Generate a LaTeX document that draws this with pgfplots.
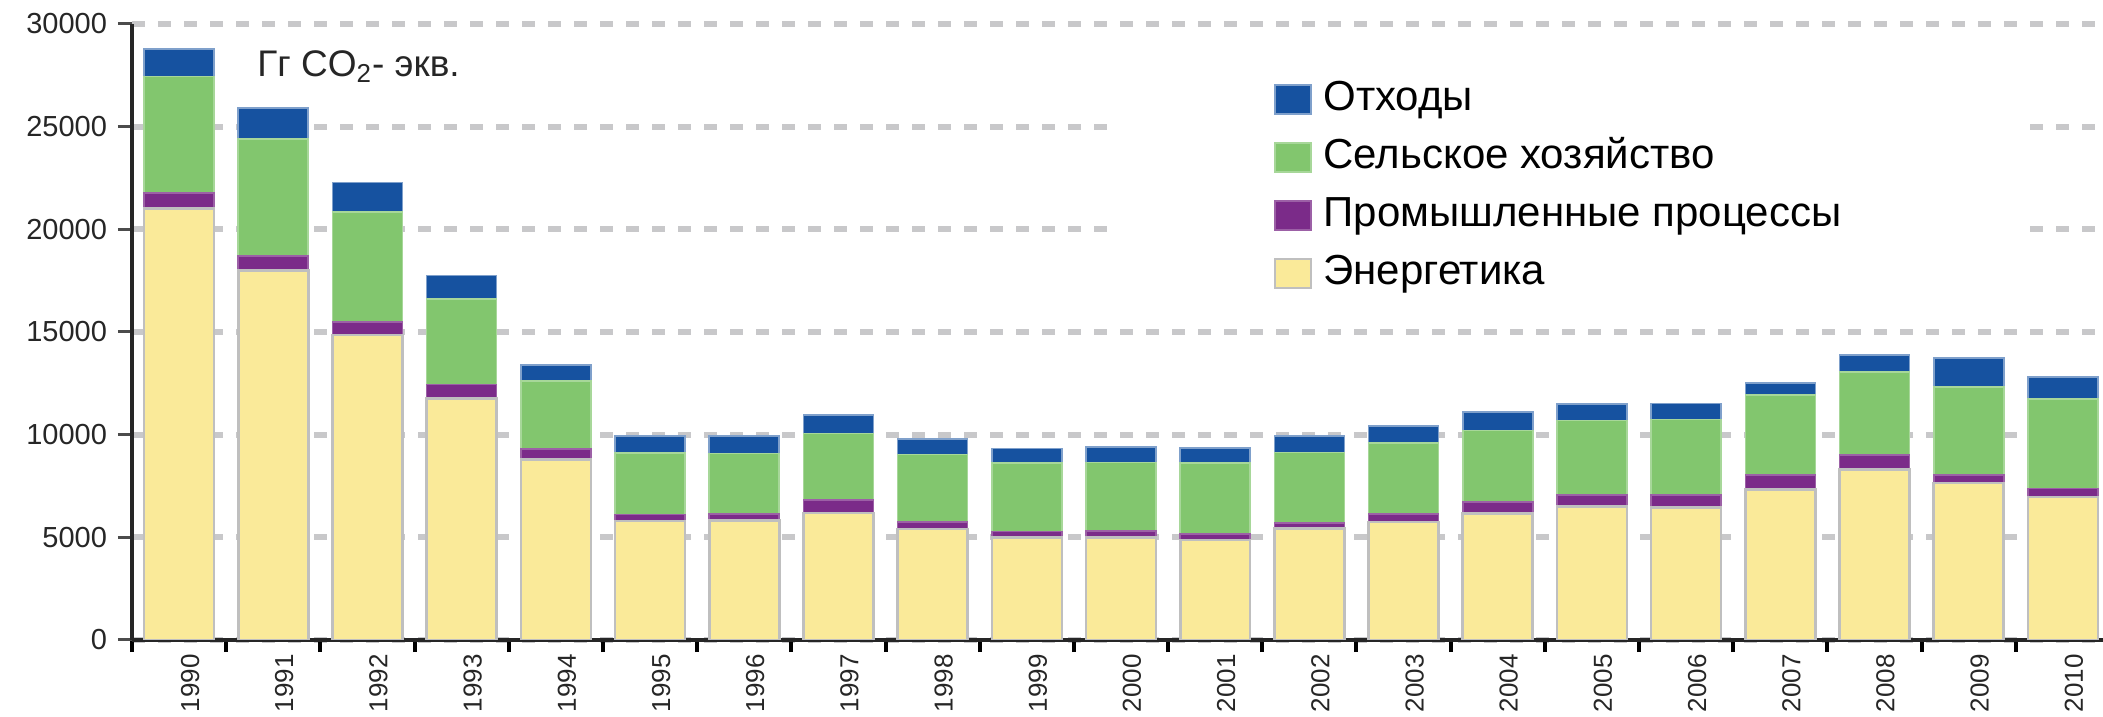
\documentclass[border=0pt]{standalone}
\usepackage{fontspec}
\setmainfont{Liberation Sans}
\usepackage{pgfplots}
\usepackage{pgfplotstable}
\pgfplotsset{compat=1.18}
\definecolor{cwaste}{HTML}{1652A0}
\definecolor{cagri}{HTML}{82C66E}
\definecolor{cind}{HTML}{7B2B89}
\definecolor{cenergy}{HTML}{FAEA99}
\definecolor{cgrid}{HTML}{C8C8CA}

\pgfplotstableread{
x energy ind agri waste
0 21000 780 5660 1330
1 18000 700 5700 1500
2 14850 650 5330 1450
3 11750 700 4150 1150
4 8800 500 3300 800
5 5800 320 3000 820
6 5830 320 2930 850
7 6190 640 3220 900
8 5400 340 3300 740
9 5000 290 3320 720
10 5000 320 3320 770
11 4870 290 3450 750
12 5430 260 3450 800
13 5750 400 3450 820
14 6170 560 3480 900
15 6490 560 3640 810
16 6450 600 3690 780
17 7320 720 3880 600
18 8290 720 4050 810
19 7640 400 4280 1415
20 6970 400 4380 1060
}\datatable

\pgfplotsset{
  sqlegend/.style={legend image code/.code={\draw[##1, line width=1pt] (0pt,-7pt) rectangle (18pt,7.5pt);}}
}

\begin{document}
\begin{tikzpicture}
\useasboundingbox (0,0) rectangle (1051.5pt,358.5pt);
\begin{axis}[
  at={(66pt,38.5pt)}, anchor=south west,
  scale only axis, width=989pt, height=308pt,
  ybar stacked, bar width=0.743,
  xmin=-0.5, xmax=20.5, ymin=0, ymax=30000,
  axis lines*=left,
  axis line style={black!85, line width=1.6pt},
  xtick={0,...,20},
  xticklabels={1990,1991,1992,1993,1994,1995,1996,1997,1998,1999,2000,2001,2002,2003,2004,2005,2006,2007,2008,2009,2010},
  minor xtick={-0.5,0.5,...,20.5},
  major x tick style={draw=none},
  minor x tick style={black, line width=2pt},
  minor tick length=6pt, major tick length=7pt,
  tick align=outside,
  ytick={0,5000,...,30000},
  major y tick style={black!70, line width=1.5pt},
  scaled y ticks=false,
  /pgf/number format/assume math mode=true,
  /pgf/number format/1000 sep={},
  yticklabel style={font=\fontsize{14.5}{17}\selectfont, text=black!85, xshift=-2pt},
  xticklabel style={rotate=90, anchor=east, inner sep=0pt, font=\fontsize{13}{15}\selectfont, text=black!85, yshift=-5.5pt},
  ymajorgrids,
  grid style={cgrid, line width=3pt, dash pattern=on 6.5pt off 6.5pt},
  reverse legend,
  legend cell align=left,
  legend style={at={(0.5774,0.9058)}, anchor=north west, draw=none, fill=none,
    inner sep=0pt, row sep=11pt,
    font=\fontsize{21}{25}\selectfont,
    nodes={inner sep=0pt, text height=14pt, text depth=4pt},
    /tikz/every odd column/.append style={column sep=5.5pt}},
]
\addplot[fill=cenergy, draw=black!25, line width=1.3pt, sqlegend] table[x=x,y=energy] {\datatable};
\addplot[fill=cind, draw=cind!75!white, line width=0.8pt, sqlegend] table[x=x,y=ind] {\datatable};
\addplot[fill=cagri, draw=cagri!70!white, line width=0.8pt, sqlegend] table[x=x,y=agri] {\datatable};
\addplot[fill=cwaste, draw=cwaste!55!white, line width=0.8pt, sqlegend] table[x=x,y=waste] {\datatable};
\legend{Энергетика, Промышленные процессы, Сельское хозяйство, Отходы}
\fill[white] (rel axis cs:0.4995,0.9416) rectangle (rel axis cs:0.958,0.552);
\node[anchor=base west, inner sep=0pt, font=\fontsize{18.5}{22}\selectfont, text=black!85] at (rel axis cs:0.0632,0.9145) {Гг CO\textsubscript{2}- экв.};
\end{axis}
\end{tikzpicture}
\end{document}
